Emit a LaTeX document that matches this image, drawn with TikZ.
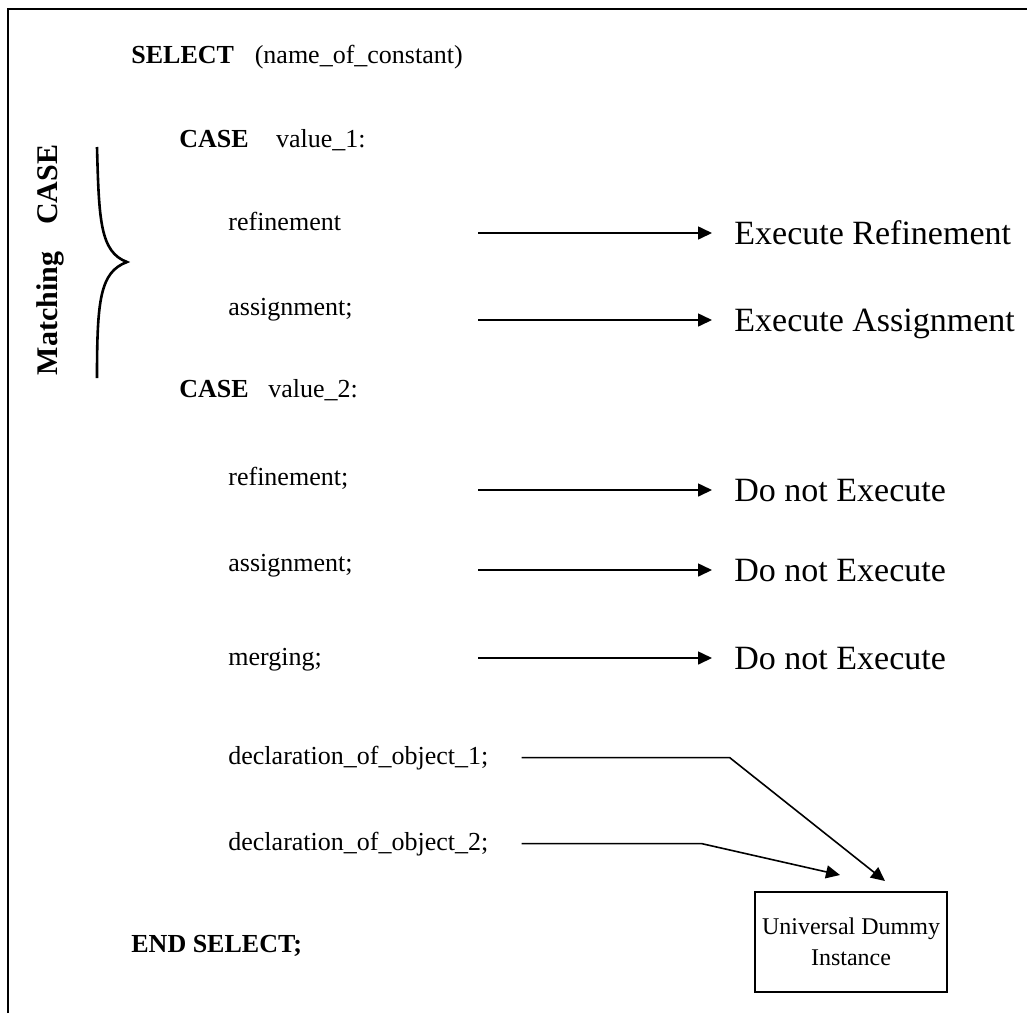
\documentclass[tikz,border=0pt]{standalone}
\usepackage{fontspec}
\setmainfont{Liberation Serif}
\usetikzlibrary{arrows.meta}

\begin{document}
\begin{tikzpicture}[x=.5pt,y=-.5pt,
    code/.style={anchor=base west,inner sep=0pt,font=\fontsize{13}{15}\selectfont},
    kw/.style={code,font=\fontsize{13}{15}\selectfont\bfseries},
    res/.style={anchor=west,inner xsep=11pt,inner ysep=0pt,text height=11.5pt,text depth=0pt,font=\fontsize{17}{20}\selectfont},
    arr/.style={-{Triangle[length=7pt,width=6.5pt]},line width=.8pt},
    box/.style={draw,line width=1pt,minimum width=96pt,minimum height=50pt,align=center,font=\fontsize{12}{15.5}\selectfont}]
        \useasboundingbox (0,0) rectangle (1027,1013);
        \draw[line width=1.2pt] (8,1013) -- (8,9) -- (1027,9);
        % left side
        \node[rotate=90,font=\fontsize{15}{18}\selectfont\bfseries] (match) at (50,260) {Matching\hspace{.9em}CASE};
        \draw[line width=1.3pt] (97,147) .. controls (99,220) and (100,252) .. (127,262) .. controls (100,272) and (97,300) .. (97,378);
        % the code
        \node[kw] (sel) at (131,63) {SELECT\hspace{.8em}\mdseries(name\_of\_constant)};
        \node[kw] (case1) at (179,147) {CASE\hspace{1.05em}\mdseries value\_1:};
        \node[code] (ref1) at (228,230) {refinement};
        \node[code] (asg1) at (228,315) {assignment;};
        \node[kw] (case2) at (179,397) {CASE\hspace{.75em}\mdseries value\_2:};
        \node[code] (ref2) at (228,485) {refinement;};
        \node[code] (asg2) at (228,571) {assignment;};
        \node[code] (mrg) at (228,665) {merging;};
        \node[code] (dec1) at (228,764) {declaration\_of\_object\_1;};
        \node[code] (dec2) at (228,850) {declaration\_of\_object\_2;};
        \node[kw] (endsel) at (131,952) {END SELECT;};
        % what happens
        \node[res] (exref) at (712,233) {Execute Refinement};
        \node[res] (exasg) at (712,320) {Execute Assignment};
        \node[res] (skip1) at (712,490) {Do not Execute};
        \node[res] (skip2) at (712,570) {Do not Execute};
        \node[res] (skip3) at (712,658) {Do not Execute};
        \node[box] (udi) at (851,942) {Universal Dummy\\Instance};
        \coordinate (tail) at (478,0);
        \draw[arr] (tail |- exref) -- (exref);
        \draw[arr] (tail |- exasg) -- (exasg);
        \draw[arr] (tail |- skip1) -- (skip1);
        \draw[arr] (tail |- skip2) -- (skip2);
        \draw[arr] (tail |- skip3) -- (skip3);
        \draw[arr] ([xshift=16.5pt]dec1.east) -- ++(208,0) -- ([xshift=17pt,yshift=5pt]udi.north);
        \draw[arr] ([xshift=16.5pt]dec2.east) -- ++(180,0) -- ([xshift=-5.5pt,yshift=8pt]udi.north);
      \end{tikzpicture}
\end{document}
